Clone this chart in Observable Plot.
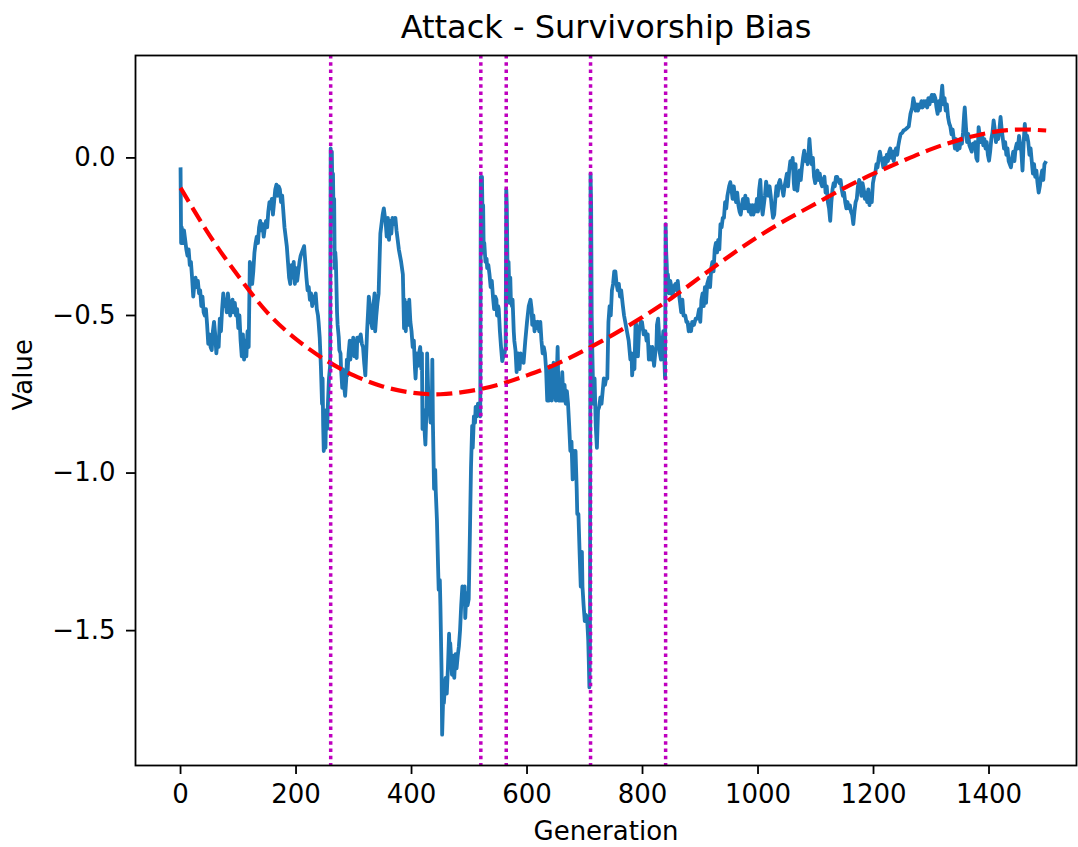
<!DOCTYPE html>
<html>
<head>
<meta charset="utf-8">
<script src="https://cdn.jsdelivr.net/npm/d3@7"></script>
<script src="https://cdn.jsdelivr.net/npm/@observablehq/plot@0.6"></script>
<style>
  html, body { margin: 0; padding: 0; background: #fff; }
  #chart svg { display: block; }
</style>
</head>
<body>
<div id="chart"></div>
<script>
const title = "Attack - Survivorship Bias";
const xLabel = "Generation";
const yLabel = "Value";
const xTicks = [0, 200, 400, 600, 800, 1000, 1200, 1400];
const yTicks = [0, -0.5, -1.0, -1.5];
const attackGenerations = [260, 520, 564, 710, 840];

// [generation, value]
const walk = [
[0,-0.03],[1,-0.27],[2,-0.22],[4,-0.27],[6,-0.23],[8,-0.26],[10,-0.29],[12,-0.31],[14,-0.29],[16,-0.34],[18,-0.33],[20,-0.38],[22,-0.44],[24,-0.40],[26,-0.38],[28,-0.41],[30,-0.39],[32,-0.43],[34,-0.42],[36,-0.47],[38,-0.44],[40,-0.49],[42,-0.50],[44,-0.48],[46,-0.53],[48,-0.59],[50,-0.56],[52,-0.60],[54,-0.61],[56,-0.55],[58,-0.52],[60,-0.56],[62,-0.62],[64,-0.58],[66,-0.60],[68,-0.51],[70,-0.55],[72,-0.48],[74,-0.43],[76,-0.47],[78,-0.45],[80,-0.49],[82,-0.43],[84,-0.46],[86,-0.50],[88,-0.47],[90,-0.45],[92,-0.49],[94,-0.46],[96,-0.50],[98,-0.48],[100,-0.54],[102,-0.50],[104,-0.58],[106,-0.63],[108,-0.56],[110,-0.64],[112,-0.58],[114,-0.63],[116,-0.55],[118,-0.60],[120,-0.33],[122,-0.35],[124,-0.40],[126,-0.36],[128,-0.30],[130,-0.27],[132,-0.25],[134,-0.27],[136,-0.22],[138,-0.20],[140,-0.23],[142,-0.21],[144,-0.25],[146,-0.22],[148,-0.20],[150,-0.22],[152,-0.17],[154,-0.14],[156,-0.16],[158,-0.13],[160,-0.18],[162,-0.14],[164,-0.10],[166,-0.085],[168,-0.12],[170,-0.09],[172,-0.10],[174,-0.14],[176,-0.12],[178,-0.17],[180,-0.22],[182,-0.25],[184,-0.28],[186,-0.33],[188,-0.38],[190,-0.40],[192,-0.34],[194,-0.38],[196,-0.33],[198,-0.40],[200,-0.35],[202,-0.39],[204,-0.36],[206,-0.33],[208,-0.31],[210,-0.30],[212,-0.29],[214,-0.28],[216,-0.33],[218,-0.38],[220,-0.42],[222,-0.41],[224,-0.45],[226,-0.43],[228,-0.47],[230,-0.44],[232,-0.46],[234,-0.43],[236,-0.48],[238,-0.50],[239,-0.52],[241,-0.57],[243,-0.66],[245,-0.78],[246,-0.70],[247,-0.85],[248,-0.93],[250,-0.87],[251,-0.92],[252,-0.80],[254,-0.86],[255,-0.79],[257,-0.70],[259,-0.66],
[260,0.03],[261,-0.02],[262,0.02],[263,-0.12],[264,-0.05],[265,-0.20],[266,-0.13],[267,-0.35],[268,-0.30],[269,-0.33],[271,-0.49],[272,-0.53],[274,-0.57],[275,-0.61],[277,-0.62],[278,-0.67],[280,-0.73],[281,-0.67],[283,-0.72],[285,-0.755],[287,-0.70],[288,-0.64],[289,-0.69],[291,-0.62],[293,-0.58],[294,-0.64],[296,-0.59],[298,-0.60],[299,-0.57],[301,-0.63],[303,-0.58],[305,-0.635],[306,-0.57],[308,-0.57],[310,-0.58],[312,-0.56],[314,-0.59],[316,-0.60],[318,-0.65],[320,-0.69],[322,-0.60],[323,-0.55],[325,-0.48],[326,-0.44],[328,-0.47],[330,-0.52],[332,-0.54],[334,-0.47],[336,-0.43],[337,-0.55],[339,-0.50],[341,-0.46],[343,-0.43],[345,-0.30],[346,-0.24],[348,-0.21],[350,-0.18],[352,-0.16],[354,-0.19],[355,-0.20],[357,-0.25],[359,-0.19],[361,-0.26],[363,-0.20],[365,-0.24],[367,-0.19],[369,-0.21],[371,-0.19],[372,-0.19],[374,-0.23],[376,-0.26],[378,-0.29],[380,-0.31],[382,-0.33],[385,-0.37],[387,-0.54],[388,-0.45],[390,-0.55],[392,-0.46],[394,-0.53],[396,-0.45],[398,-0.52],[400,-0.55],[402,-0.60],[404,-0.58],[406,-0.67],[407,-0.70],[409,-0.62],[411,-0.66],[413,-0.62],[415,-0.60],[417,-0.67],[418,-0.62],[419,-0.86],[421,-0.80],[423,-0.88],[424,-0.91],[426,-0.79],[427,-0.62],[429,-0.75],[431,-0.79],[433,-0.84],[435,-0.82],[436,-0.64],[437,-0.84],[439,-1.05],[441,-0.99],[442,-1.06],[444,-1.15],[446,-1.30],[447,-1.37],[449,-1.34],[450,-1.42],[452,-1.63],[453,-1.83],[455,-1.70],[456,-1.73],[458,-1.67],[459,-1.65],[461,-1.70],[463,-1.62],[465,-1.51],[466,-1.58],[467,-1.54],[469,-1.60],[470,-1.64],[472,-1.58],[474,-1.65],[476,-1.575],[478,-1.62],[480,-1.58],[482,-1.55],[484,-1.50],[486,-1.42],[488,-1.36],[490,-1.40],[492,-1.36],[493,-1.46],[495,-1.38],[497,-1.42],[499,-1.40],[501,-1.20],[503,-0.98],[505,-0.85],[506,-0.92],[508,-0.82],[510,-0.84],[511,-0.79],[513,-0.82],[515,-0.78],[517,-0.80],[519,-0.82],
[520,-0.06],[521,-0.10],[522,-0.06],[523,-0.20],[524,-0.15],[525,-0.30],[526,-0.27],[528,-0.33],[530,-0.32],[531,-0.35],[533,-0.34],[535,-0.37],[537,-0.41],[539,-0.39],[541,-0.44],[543,-0.48],[545,-0.44],[547,-0.45],[548,-0.50],[550,-0.47],[551,-0.48],[553,-0.55],[555,-0.60],[557,-0.645],[559,-0.63],[561,-0.62],[563,-0.60],
[564,-0.10],[565,-0.15],[566,-0.32],[567,-0.35],[568,-0.33],[569,-0.40],[570,-0.46],[571,-0.38],[572,-0.45],[574,-0.47],[575,-0.45],[577,-0.55],[578,-0.58],[580,-0.61],[582,-0.68],[583,-0.62],[585,-0.62],[587,-0.67],[589,-0.62],[591,-0.64],[594,-0.65],[597,-0.58],[600,-0.52],[603,-0.47],[606,-0.45],[608,-0.48],[609,-0.53],[611,-0.50],[613,-0.55],[615,-0.52],[617,-0.54],[619,-0.52],[621,-0.55],[623,-0.52],[625,-0.58],[627,-0.62],[629,-0.60],[631,-0.62],[633,-0.67],[635,-0.77],[636,-0.69],[638,-0.77],[640,-0.66],[641,-0.69],[643,-0.77],[644,-0.67],[646,-0.65],[648,-0.73],[650,-0.77],[652,-0.66],[653,-0.60],[654,-0.70],[655,-0.77],[657,-0.72],[659,-0.77],[661,-0.68],[663,-0.77],[665,-0.72],[667,-0.78],[669,-0.74],[671,-0.78],[673,-0.85],[675,-0.93],[677,-0.90],[679,-1.02],[681,-0.93],[683,-0.97],[684,-0.93],[686,-1.05],[687,-1.13],[689,-1.13],[691,-1.25],[693,-1.36],[695,-1.25],[696,-1.36],[698,-1.42],[700,-1.47],[702,-1.45],[704,-1.46],[706,-1.53],[707,-1.60],[708,-1.68],[709,-1.55],
[710,-0.05],[711,-0.15],[712,-0.50],[713,-0.61],[715,-0.78],[717,-0.70],[719,-0.85],[721,-0.92],[723,-0.80],[725,-0.79],[727,-0.76],[729,-0.78],[731,-0.74],[733,-0.70],[735,-0.72],[737,-0.70],[739,-0.70],[741,-0.52],[743,-0.47],[745,-0.50],[747,-0.42],[749,-0.40],[751,-0.36],[753,-0.36],[755,-0.40],[757,-0.42],[759,-0.40],[761,-0.44],[763,-0.42],[766,-0.47],[768,-0.50],[771,-0.53],[773,-0.55],[776,-0.58],[779,-0.64],[781,-0.62],[782,-0.69],[784,-0.64],[786,-0.67],[788,-0.52],[790,-0.54],[792,-0.63],[794,-0.55],[797,-0.52],[799,-0.52],[802,-0.56],[805,-0.55],[807,-0.58],[809,-0.56],[811,-0.64],[813,-0.60],[815,-0.64],[817,-0.60],[820,-0.66],[822,-0.62],[824,-0.60],[825,-0.53],[827,-0.51],[828,-0.54],[830,-0.62],[832,-0.64],[834,-0.60],[836,-0.55],[838,-0.65],[839,-0.70],
[840,-0.21],[841,-0.30],[842,-0.34],[843,-0.41],[844,-0.37],[846,-0.43],[848,-0.39],[850,-0.41],[852,-0.44],[854,-0.41],[857,-0.40],[859,-0.42],[861,-0.39],[863,-0.43],[865,-0.46],[867,-0.49],[869,-0.45],[871,-0.50],[874,-0.50],[876,-0.52],[878,-0.52],[880,-0.55],[882,-0.53],[884,-0.55],[886,-0.52],[889,-0.53],[892,-0.51],[895,-0.51],[898,-0.48],[900,-0.52],[902,-0.45],[904,-0.43],[906,-0.47],[908,-0.41],[910,-0.46],[912,-0.40],[915,-0.38],[917,-0.41],[919,-0.35],[921,-0.33],[923,-0.36],[925,-0.29],[927,-0.27],[929,-0.30],[931,-0.26],[933,-0.29],[935,-0.21],[937,-0.22],[939,-0.19],[941,-0.19],[943,-0.14],[945,-0.16],[947,-0.12],[950,-0.09],[952,-0.077],[954,-0.10],[956,-0.13],[958,-0.09],[960,-0.12],[962,-0.14],[964,-0.11],[966,-0.15],[968,-0.17],[970,-0.18],[972,-0.15],[974,-0.13],[976,-0.16],[978,-0.12],[980,-0.16],[982,-0.13],[984,-0.17],[986,-0.15],[988,-0.18],[990,-0.15],[992,-0.18],[994,-0.15],[996,-0.17],[998,-0.13],[1000,-0.17],[1002,-0.10],[1004,-0.07],[1006,-0.15],[1008,-0.18],[1010,-0.15],[1012,-0.12],[1014,-0.075],[1016,-0.10],[1018,-0.12],[1020,-0.09],[1022,-0.12],[1024,-0.16],[1026,-0.19],[1028,-0.18],[1030,-0.13],[1032,-0.09],[1034,-0.12],[1036,-0.08],[1038,-0.07],[1040,-0.09],[1042,-0.10],[1044,-0.12],[1046,-0.09],[1048,-0.07],[1050,-0.05],[1052,-0.09],[1054,-0.04],[1056,-0.01],[1058,-0.03],[1060,0.00],[1062,-0.08],[1063,-0.10],[1065,-0.02],[1066,-0.09],[1068,-0.104],[1070,-0.07],[1072,-0.04],[1074,-0.07],[1076,-0.03],[1078,0.00],[1080,0.023],[1082,-0.01],[1084,0.01],[1086,-0.02],[1088,0.03],[1089,0.06],[1091,0.01],[1093,-0.02],[1095,0.00],[1097,-0.06],[1099,-0.08],[1101,-0.06],[1103,-0.04],[1105,-0.07],[1107,-0.05],[1109,-0.08],[1111,-0.09],[1113,-0.07],[1115,-0.06],[1117,-0.11],[1119,-0.09],[1121,-0.14],[1123,-0.16],[1125,-0.20],[1127,-0.14],[1129,-0.10],[1131,-0.08],[1133,-0.09],[1135,-0.06],[1137,-0.06],[1139,-0.07],[1141,-0.08],[1143,-0.07],[1145,-0.10],[1147,-0.12],[1149,-0.11],[1151,-0.14],[1153,-0.16],[1155,-0.14],[1157,-0.16],[1159,-0.15],[1161,-0.17],[1163,-0.18],[1165,-0.21],[1167,-0.17],[1169,-0.14],[1171,-0.13],[1173,-0.09],[1175,-0.07],[1177,-0.08],[1179,-0.12],[1181,-0.08],[1183,-0.10],[1185,-0.13],[1187,-0.11],[1189,-0.14],[1191,-0.10],[1193,-0.15],[1195,-0.12],[1197,-0.14],[1199,-0.08],[1201,-0.06],[1203,-0.05],[1205,-0.02],[1207,-0.03],[1209,0.00],[1211,0.02],[1213,0.00],[1215,-0.01],[1217,-0.03],[1219,0.00],[1221,-0.02],[1223,0.01],[1225,-0.01],[1227,0.02],[1229,0.03],[1231,0.00],[1233,0.02],[1235,-0.01],[1237,0.02],[1239,0.03],[1241,0.01],[1243,0.04],[1245,0.06],[1247,0.076],[1250,0.08],[1252,0.087],[1255,0.09],[1258,0.095],[1261,0.10],[1264,0.14],[1267,0.16],[1269,0.19],[1271,0.17],[1273,0.15],[1275,0.17],[1277,0.15],[1279,0.17],[1281,0.16],[1283,0.18],[1285,0.16],[1287,0.18],[1289,0.165],[1291,0.18],[1293,0.16],[1295,0.19],[1297,0.17],[1299,0.19],[1301,0.20],[1303,0.18],[1305,0.20],[1307,0.19],[1309,0.16],[1311,0.14],[1313,0.18],[1315,0.15],[1317,0.19],[1319,0.229],[1321,0.17],[1323,0.19],[1325,0.15],[1327,0.17],[1329,0.13],[1331,0.11],[1333,0.10],[1335,0.075],[1337,0.09],[1339,0.06],[1341,0.03],[1343,0.06],[1345,0.025],[1347,0.05],[1349,0.03],[1351,0.06],[1353,0.045],[1355,0.08],[1357,0.14],[1358,0.16],[1360,0.10],[1362,0.05],[1364,0.076],[1366,0.04],[1368,0.03],[1370,0.02],[1372,0.045],[1374,0.035],[1376,0.05],[1378,0.00],[1380,-0.009],[1382,0.098],[1384,0.07],[1386,0.05],[1388,0.076],[1390,0.04],[1392,0.06],[1394,0.03],[1396,0.05],[1398,0.01],[1400,-0.009],[1402,0.02],[1404,0.06],[1406,0.08],[1408,0.119],[1410,0.09],[1412,0.05],[1414,0.08],[1416,0.06],[1418,0.09],[1420,0.13],[1422,0.09],[1424,0.06],[1426,0.03],[1428,0.05],[1430,0.01],[1432,0.03],[1434,-0.01],[1436,-0.02],[1438,-0.03],[1440,0.00],[1442,0.02],[1444,-0.01],[1446,0.03],[1448,0.045],[1450,0.03],[1452,0.07],[1454,0.04],[1456,0.02],[1458,-0.04],[1460,0.05],[1462,0.108],[1464,0.06],[1466,0.07],[1468,0.05],[1470,0.01],[1472,0.03],[1474,-0.01],[1476,-0.05],[1478,-0.02],[1480,-0.06],[1482,-0.04],[1484,-0.08],[1486,-0.11],[1488,-0.09],[1490,-0.06],[1492,-0.04],[1494,-0.07],[1496,-0.02],[1499,-0.01]
];

// red dashed trend
const fitGeneration = [0, 50, 100, 150, 200, 250, 300, 350, 400, 450, 500, 550, 600, 650, 700, 750, 800, 850, 900, 950, 1000, 1050, 1100, 1150, 1200, 1250, 1300, 1350, 1400, 1450, 1499];
const fitValue = [-0.095, -0.245, -0.375, -0.49, -0.575, -0.64, -0.69, -0.725, -0.745, -0.75, -0.74, -0.72, -0.69, -0.655, -0.61, -0.56, -0.505, -0.445, -0.378, -0.312, -0.25, -0.195, -0.145, -0.095, -0.05, -0.01, 0.028, 0.058, 0.08, 0.09, 0.087];
const fit = fitGeneration.map((g, i) => ({g, v: fitValue[i]}));

const font = "DejaVu Sans, sans-serif";

const chart = Plot.plot({
  width: 1078,
  height: 847,
  marginLeft: 135,
  marginRight: 2,
  marginTop: 55,
  marginBottom: 82,
  style: {fontFamily: font, fontSize: "26px", color: "#000", background: "#fff", overflow: "visible"},
  x: {domain: [-78, 1551.5], label: null},
  y: {domain: [-1.928, 0.325], label: null},
  marks: [
    Plot.line(walk, {x: d => d[0], y: d => d[1], stroke: "#1f77b4", strokeWidth: 3.8, strokeLinejoin: "round", strokeLinecap: "butt"}),
    Plot.line(fit, {x: "g", y: "v", curve: "natural", stroke: "#ff0000", strokeWidth: 4.2, strokeDasharray: "16,7", strokeLinecap: "butt"}),
    Plot.ruleX(attackGenerations, {stroke: "#bf00bf", strokeWidth: 3.5, strokeDasharray: "3.5,3.8"}),
    Plot.frame({stroke: "#000", strokeWidth: 1.8}),
    Plot.axisX({ticks: xTicks, tickSize: 9, tickPadding: 10, tickFormat: d3.format("d"), label: null, fontSize: 26, stroke: "#000", strokeWidth: 1.8}),
    Plot.axisY({ticks: yTicks, tickSize: 9, tickPadding: 11, tickFormat: d3.format(".1f"), label: null, fontSize: 26, stroke: "#000", strokeWidth: 1.8}),
    Plot.text([xLabel], {frameAnchor: "bottom", lineAnchor: "middle", dy: 66, fontSize: 26, fill: "#000"}),
    Plot.text([yLabel], {frameAnchor: "left", dx: -112, rotate: -90, fontSize: 26, fill: "#000"}),
    Plot.text([title], {frameAnchor: "top", lineAnchor: "middle", dy: -28, fontSize: 32, fill: "#000"})
  ]
});
document.getElementById("chart").appendChild(chart);
</script>
</body>
</html>
